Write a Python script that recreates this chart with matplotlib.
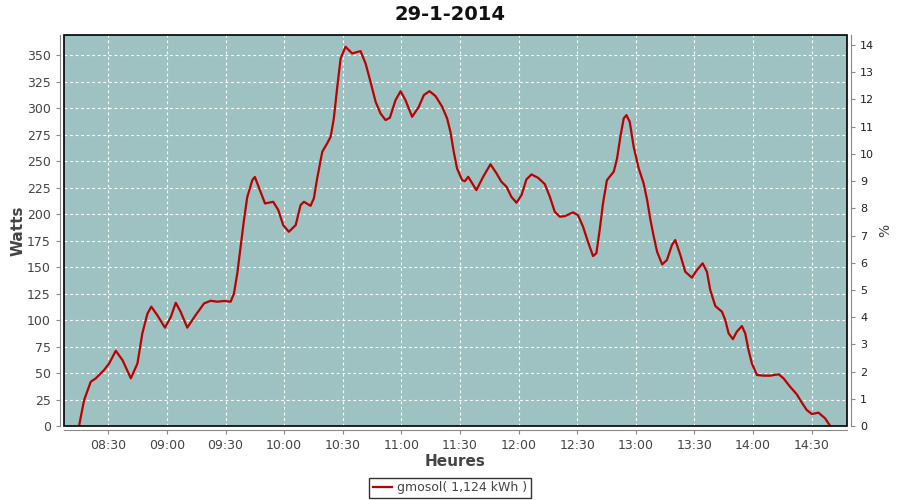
import matplotlib
matplotlib.use('Agg')
import matplotlib.pyplot as plt
from matplotlib.patches import Rectangle
from matplotlib.ticker import FuncFormatter, MultipleLocator

# --- Datos (minutos desde medianoche, watts) ---------------------------------
minutos = [495, 497.6, 501, 503.6, 507.8, 510.4, 513.8, 517.3, 521.5, 524.9,
           527.4, 530, 532, 535, 539, 542, 544.5, 547, 550.4, 554.7,
           559, 562.4, 565.8, 569.2, 572.6, 574.3, 576, 577.7, 579.4, 581.1,
           583.7, 585, 587.6, 590.2, 594.4, 597, 599.5, 602.4, 605.9, 608.4,
           610.1, 613.5, 615.2, 616.9, 619.5, 622, 623.8, 625.4, 627.1, 628.9,
           631.4, 634.8, 639.1, 641.7, 644.2, 646.8, 649.3, 651.9, 654.1, 657,
           659.6, 662.1, 665.5, 668.9, 671.5, 674.4, 677.5, 680.9, 683.4, 685.1,
           686.8, 688.5, 691.1, 692.5, 694.2, 698.4, 701.8, 705.6, 708.7, 711.2,
           713.8, 716.3, 718.9, 721.5, 724, 726.6, 730, 733.4, 736, 738.5,
           741.1, 743.6, 747.9, 750.4, 753, 755.5, 758.1, 759.8, 761.5, 763.2,
           765.2, 768.7, 770.4, 772.1, 773.8, 775.2, 776.9, 778.9, 781.5, 784,
           785.8, 787.5, 789.2, 790.9, 793.5, 795.9, 798.5, 800.2, 802.8, 805.3,
           808.7, 811.3, 814.2, 816.4, 818.1, 820.7, 824.1, 825.8, 827.5, 829.7,
           831.7, 834.3, 836, 837.7, 839.4, 842, 845.4, 848.8, 853.1, 855.6,
           859, 862.4, 865, 867.5, 870.1, 873.5, 876.9, 879.5]
watts = [0, 24.5, 41.8, 45, 52.8, 59, 71, 62, 45, 59,
         87.4, 106, 112.6, 104.7, 92.8, 103, 116.3, 107.8, 92.8, 104.7,
         115.7, 118.2, 117.3, 118, 117.3, 125, 144, 169, 194, 216,
         232, 235, 222.6, 210, 211.6, 203.8, 189.6, 183.3, 189.6, 208.5,
         211.6, 207.8, 214.8, 233.7, 258.8, 266.7, 273, 290, 318.6, 346.9,
         357.9, 351.6, 353.8, 342, 324.8, 306, 295, 288.7, 290.9, 307.5,
         316, 307.5, 291.8, 301.2, 312.3, 316, 311.3, 301.2, 290.3, 277.6,
         258.8, 243, 232, 231, 235.2, 222.6, 235, 247, 238.4, 230.5,
         225.8, 216.3, 210.7, 218, 232.7, 237.4, 234.2, 228.3, 216.3, 202.2,
         197.5, 198, 201.6, 199, 188, 173.9, 160.4, 163, 185, 210,
         232, 240, 252.5, 273, 290.3, 293.4, 287, 263.5, 243, 229,
         213.2, 194.3, 178.6, 164.4, 152.5, 156.6, 170.8, 175.5, 161.3, 145.6,
         140, 147.2, 153.5, 145.6, 128.3, 113.2, 107.8, 100, 87.4, 82,
         89, 94.3, 87.4, 71.7, 59.1, 48.1, 47.5, 47.5, 48.8, 45,
         37, 29.9, 22, 15.1, 11.3, 12.6, 7.2, 0]

ticks_x = list(range(510, 871, 30))  # 08:30 ... 14:30
titulo = '29-1-2014'
leyenda = 'gmosol( 1,124 kWh )'

gris = '#444444'
eje = '#888888'
fondo = '#9ec2c2'
rojo = '#bb0000'

fig = plt.figure(figsize=(9, 5), dpi=100)
ax = fig.add_axes([64/900, 74/500, 783/900, 391/500])
ax.set_facecolor(fondo)

ax.plot(minutos, watts, color=rojo, lw=1.6, label=leyenda, zorder=3)

ax.set_xlim(487.3, 888.1)
ax.set_ylim(0, 369)
ax.set_xticks(ticks_x)
ax.xaxis.set_major_formatter(FuncFormatter(lambda v, p: '%02d:%02d' % (int(v) // 60, int(v) % 60)))
ax.yaxis.set_major_locator(MultipleLocator(25))
ax.grid(True, color='white', ls=(0, (2.5, 2.5)), lw=0.8)

for s in ['top', 'right']:
    ax.spines[s].set_visible(False)
for s in ['left', 'bottom']:
    ax.spines[s].set_position(('outward', 3))
    ax.spines[s].set_color(eje)
ax.tick_params(colors=eje, labelcolor=gris, labelsize=9, length=3, width=0.8)
ax.add_patch(Rectangle((0, 0), 1, 1, transform=ax.transAxes, fill=False,
                       ec='black', lw=1.2, zorder=5, clip_on=False))

ax.set_ylabel('Watts', fontsize=11, fontweight='bold', color=gris, labelpad=1)
ax.set_xlabel('Heures', fontsize=11, fontweight='bold', color=gris, labelpad=1)

ax2 = ax.twinx()
ax2.set_ylim(0, 14.37)
ax2.yaxis.set_major_locator(MultipleLocator(1))
for s in ['top', 'left', 'bottom']:
    ax2.spines[s].set_visible(False)
ax2.spines['right'].set_position(('outward', 3))
ax2.spines['right'].set_color(eje)
ax2.tick_params(colors=eje, labelcolor='#222222', labelsize=8, length=3, width=0.8)
ax2.set_ylabel('%', fontsize=10, color=gris, labelpad=3)

fig.suptitle(titulo, x=0.5, y=0.972, va='center', fontsize=14, fontweight='bold', color='#111111')

lg = fig.legend(loc='center', bbox_to_anchor=(0.5, 0.024), fontsize=9, frameon=True,
                fancybox=False, handlelength=1.5, borderpad=0.3, handletextpad=0.4)
lg.get_frame().set_edgecolor('black')
lg.get_frame().set_linewidth(1)
for t in lg.get_texts():
    t.set_color(gris)

fig.savefig('out.png', dpi=100)
